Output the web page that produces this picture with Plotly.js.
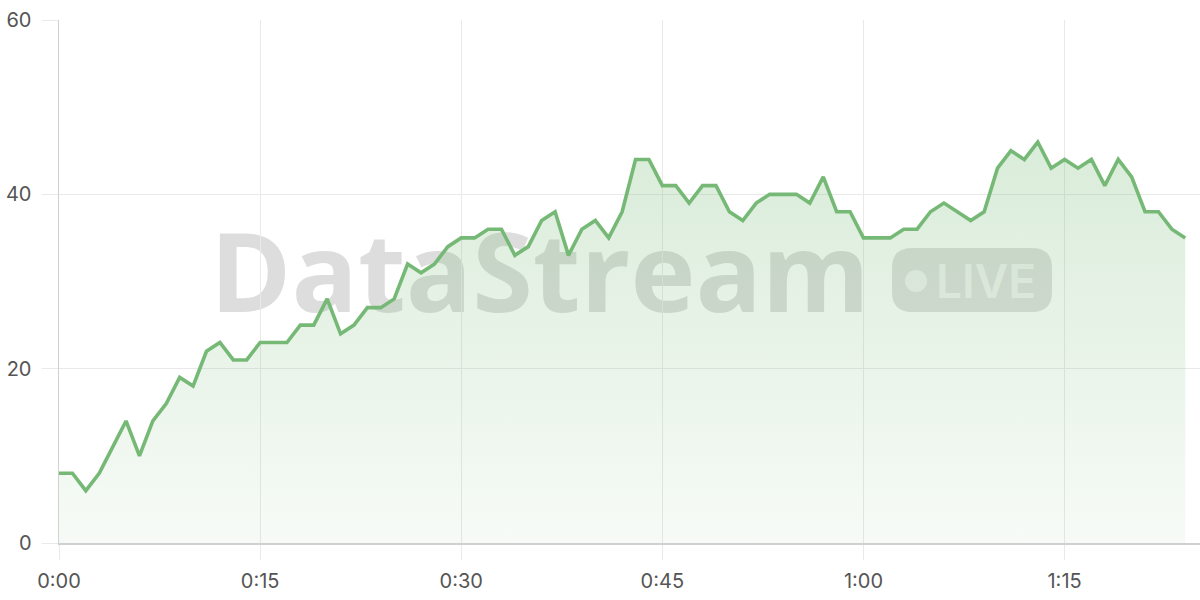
<!DOCTYPE html>
<html>
<head>
<meta charset="utf-8">
<script src="https://cdn.plot.ly/plotly-3.0.1.min.js"></script>
<style>
  html, body { margin: 0; padding: 0; background: #fff; }
  #chart { width: 1200px; height: 600px; }
</style>
</head>
<body>
<div id="chart"></div>
<script>
// viewers per minute of the stream
var viewers = [8, 8, 6, 8, 11, 14, 10, 14, 16, 19, 18, 22, 23, 21, 21, 23, 23, 23, 25, 25,
  28, 24, 25, 27, 27, 28, 32, 31, 32, 34, 35, 35, 36, 36, 33, 34, 37, 38, 33, 36,
  37, 35, 38, 44, 44, 41, 41, 39, 41, 41, 38, 37, 39, 40, 40, 40, 39, 42, 38, 38,
  35, 35, 35, 36, 36, 38, 39, 38, 37, 38, 43, 45, 44, 46, 43, 44, 43, 44, 41, 44,
  42, 38, 38, 36, 35];
var minutes = viewers.map(function (v, i) { return i; });

var tickVals = [0, 15, 30, 45, 60, 75];
var tickText = ['0:00', '0:15', '0:30', '0:45', '1:00', '1:15'];
var yTicks = [0, 20, 40, 60];

var green = '#76b976';
var gridColor = '#e9e9e9';
var fontFamily = 'Inter, "Noto Sans", sans-serif';

var trace = {
  x: minutes,
  y: viewers,
  type: 'scatter',
  mode: 'lines',
  line: { color: green, width: 3.6 },
  fill: 'tozeroy',
  fillgradient: {
    type: 'vertical',
    start: 0,
    stop: 46,
    colorscale: [[0, 'rgba(116,184,116,0.06)'], [1, 'rgba(116,184,116,0.27)']]
  },
  hoverinfo: 'skip'
};

// plot area in pixels: x 59..1200, y 20..543
function px(xp) { return (xp - 59) / 1141; }
function py(yp) { return (543 - yp) / 523; }

var pill = 'M -60,-32 L 60,-32 Q 80,-32 80,-12 L 80,12 Q 80,32 60,32 L -60,32 Q -80,32 -80,12 L -80,-12 Q -80,-32 -60,-32 Z';

var layout = {
  width: 1200,
  height: 600,
  margin: { l: 59, r: 0, t: 20, b: 57 },
  paper_bgcolor: '#fff',
  plot_bgcolor: '#fff',
  showlegend: false,
  font: { family: fontFamily, color: '#555', size: 20 },
  xaxis: {
    range: [0, 85.1],
    tickvals: tickVals,
    ticktext: tickText,
    showgrid: true,
    gridcolor: gridColor,
    gridwidth: 1,
    zeroline: false,
    showline: true,
    linecolor: '#d0d0d0',
    linewidth: 1.5,
    ticks: 'outside',
    ticklen: 15,
    tickcolor: gridColor,
    tickfont: { size: 20, color: '#555' },
    ticklabelstandoff: 4,
    fixedrange: true
  },
  yaxis: {
    range: [0, 60],
    tickvals: yTicks,
    showgrid: true,
    gridcolor: gridColor,
    gridwidth: 1,
    zeroline: false,
    showline: true,
    linecolor: '#d0d0d0',
    linewidth: 1.5,
    ticks: 'outside',
    ticklen: 16,
    tickcolor: gridColor,
    tickfont: { size: 20, color: '#555' },
    ticklabelstandoff: 6,
    fixedrange: true
  },
  shapes: [
    {
      // DataStream watermark, kept under the trace
      type: 'rect', layer: 'below', xref: 'paper', yref: 'paper',
      x0: px(190), x1: px(890), y0: py(336), y1: py(218),
      line: { width: 0 }, fillcolor: 'rgba(0,0,0,0)',
      label: {
        text: 'DataStream',
        textposition: 'middle center',
        font: { family: '"Open Sans", Inter, sans-serif', size: 110, weight: 700, color: 'rgba(110,110,110,0.23)' }
      }
    },
    {
      type: 'path', layer: 'below', xref: 'paper', yref: 'paper',
      xsizemode: 'pixel', ysizemode: 'pixel',
      xanchor: px(972), yanchor: py(280),
      path: pill,
      line: { width: 0 },
      fillcolor: 'rgba(110,110,110,0.22)'
    },
    {
      type: 'circle', layer: 'below', xref: 'paper', yref: 'paper',
      xsizemode: 'pixel', ysizemode: 'pixel',
      xanchor: px(916), yanchor: py(281),
      x0: -11, x1: 11, y0: -11, y1: 11,
      line: { width: 0 },
      fillcolor: 'rgba(255,255,255,0.6)'
    },
    {
      type: 'rect', layer: 'below', xref: 'paper', yref: 'paper',
      x0: px(936), x1: px(1036), y0: py(305), y1: py(255),
      line: { width: 0 }, fillcolor: 'rgba(0,0,0,0)',
      label: {
        text: 'LIVE',
        textposition: 'middle center',
        font: { family: fontFamily, size: 46, weight: 600, color: 'rgba(255,255,255,0.6)' }
      }
    }
  ]
};

Plotly.newPlot('chart', [trace], layout, { displayModeBar: false, staticPlot: true });
</script>
</body>
</html>
